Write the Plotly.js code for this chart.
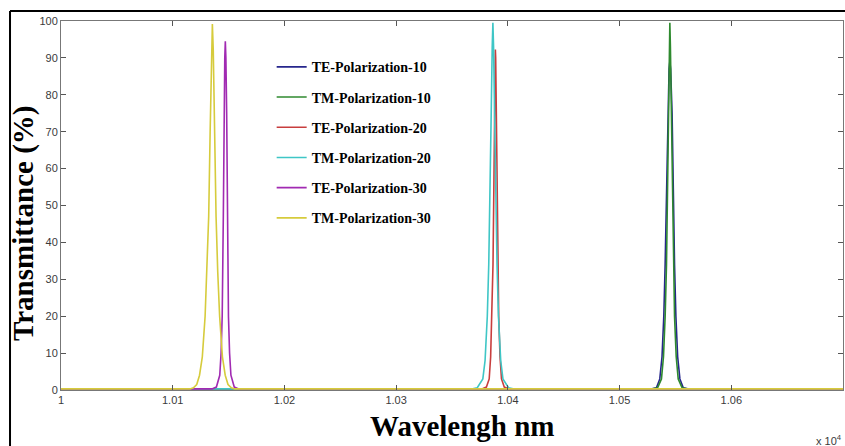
<!DOCTYPE html>
<html>
<head>
<meta charset="utf-8">
<script src="https://cdn.plot.ly/plotly-3.0.1.min.js"></script>
<style>
  html, body { margin: 0; padding: 0; background: #ffffff; }
  #chart { width: 845px; height: 446px; }
</style>
</head>
<body>
<div id="chart"></div>
<script>
// ---- data (wavelength in nm, transmittance in %) ----
const seriesNames = ["TE-Polarization-10", "TM-Polarization-10", "TE-Polarization-20",
                     "TM-Polarization-20", "TE-Polarization-30", "TM-Polarization-30"];

const te10X = [10000, 10529, 10533, 10536, 10538, 10539.6, 10540.8, 10541.8, 10543, 10544.3, 10545,
               10545.7, 10547, 10548.2, 10549.2, 10550.4, 10552, 10554, 10557, 10561, 10700];
const te10Y = [0.3, 0.3, 0.6, 3, 9, 20, 34, 50, 75, 87, 89, 87, 75, 50, 34, 20, 9, 3, 0.6, 0.3, 0.3];

const tm10X = [10000, 10530, 10534, 10537.5, 10539.3, 10540.8, 10542, 10542.8, 10543.7, 10544.5, 10545,
               10545.5, 10546.3, 10547.2, 10548, 10549.2, 10550.7, 10552.5, 10556, 10560, 10700];
const tm10Y = [0.3, 0.3, 0.6, 3, 9, 20, 34, 50, 75, 93, 99.5, 93, 75, 50, 34, 20, 9, 3, 0.6, 0.3, 0.3];

const te20X = [10000, 10376.8, 10380.8, 10383.3, 10384.6, 10385.8, 10386.7, 10387.3, 10387.9, 10388.5, 10388.8,
               10389.1, 10389.7, 10390.3, 10390.9, 10391.8, 10393, 10394.3, 10396.8, 10400.8, 10700];
const te20Y = [0.3, 0.3, 0.8, 3, 9, 20, 34, 50, 75, 90, 92.3, 90, 75, 50, 34, 20, 9, 3, 0.8, 0.3, 0.3];

const tm20X = [10000, 10368.6, 10372.6, 10377.6, 10379.6, 10381.6, 10382.9, 10384, 10385.1, 10386, 10386.6,
               10387.2, 10388.1, 10389.2, 10390.3, 10391.6, 10393.6, 10395.6, 10400.6, 10404.6, 10700];
const tm20Y = [0.3, 0.3, 0.6, 3, 8, 20, 34, 50, 75, 93, 99.5, 93, 75, 50, 34, 20, 8, 3, 0.6, 0.3, 0.3];

const te30X = [10000, 10135.1, 10139.1, 10142.1, 10143.3, 10144.3, 10145.3, 10145.9, 10146.6, 10147.1,
               10147.6, 10148.3, 10148.9, 10149.9, 10150.9, 10152.1, 10155.1, 10159.1, 10700];
const te30Y = [0.3, 0.3, 0.8, 4, 10, 20, 47, 75, 90, 94.5, 90, 75, 47, 20, 10, 4, 0.8, 0.3, 0.3];

const tm30X = [10000, 10115.5, 10118.5, 10121.5, 10124, 10126.5, 10129, 10130.7, 10132.2, 10133.5, 10134.7, 10135.5,
               10136.3, 10137.5, 10138.8, 10140.3, 10142, 10144.5, 10147, 10149.5, 10152.5, 10155.5, 10700];
const tm30Y = [0.3, 0.3, 0.6, 1.5, 4, 9, 20, 32, 47, 70, 92, 99.2, 92, 70, 47, 32, 20, 9, 4, 1.5, 0.6, 0.3, 0.3];

const xTickVals = [10000, 10100, 10200, 10300, 10400, 10500, 10600, 10700];
const xTickText = ["1", "1.01", "1.02", "1.03", "1.04", "1.05", "1.06", "1.07"];
const yTickVals = [0, 10, 20, 30, 40, 50, 60, 70, 80, 90, 100];

const xTitle = "Wavelengh nm";
const yTitle = "Transmittance (%)";
const xExponent = "x 10<sup>4</sup>";

// ---- styles ----
const colors = ["#26268c", "#2f8a2f", "#c83e3e", "#3fc6c6", "#a12ab2", "#d6cb3c"];
const xs = [te10X, tm10X, te20X, tm20X, te30X, tm30X];
const ys = [te10Y, tm10Y, te20Y, tm20Y, te30Y, tm30Y];

const traces = seriesNames.map((name, i) => ({
  type: "scatter",
  mode: "lines",
  name: name,
  legendgroup: "g" + i,
  x: xs[i],
  y: ys[i],
  line: { color: colors[i], width: 1.6 }
}));

const tickFont = { family: "Liberation Sans, Arial, sans-serif", size: 11, color: "#3a3a3a" };
const serifBold = { family: "Liberation Serif, Times New Roman, serif", weight: "bold", color: "#000" };

const layout = {
  width: 845,
  height: 446,
  margin: { l: 61, r: 2, t: 21, b: 56, pad: 0 },
  paper_bgcolor: "#ffffff",
  plot_bgcolor: "#ffffff",
  showlegend: true,
  legend: {
    x: 0.2694, xanchor: "left",
    y: 0.918, yanchor: "top",
    bgcolor: "rgba(0,0,0,0)",
    borderwidth: 0,
    tracegroupgap: 9,
    font: Object.assign({ size: 14 }, serifBold)
  },
  xaxis: {
    range: [10000, 10700],
    tickmode: "array",
    tickvals: xTickVals,
    ticktext: xTickText,
    ticks: "inside",
    ticklen: 5,
    tickcolor: "#555",
    showline: true,
    linecolor: "#777",
    linewidth: 1,
    mirror: "ticks",
    showgrid: false,
    zeroline: false,
    tickfont: tickFont
  },
  yaxis: {
    range: [0, 100],
    tickmode: "array",
    tickvals: yTickVals,
    ticks: "inside",
    ticklen: 5,
    tickcolor: "#555",
    showline: true,
    linecolor: "#777",
    linewidth: 1,
    mirror: "ticks",
    showgrid: false,
    zeroline: false,
    tickfont: tickFont
  },
  annotations: [
    {
      xref: "paper", yref: "paper",
      x: 0.514, y: -0.097,
      xanchor: "center", yanchor: "middle",
      text: xTitle,
      showarrow: false,
      font: Object.assign({ size: 29 }, serifBold)
    },
    {
      xref: "paper", yref: "paper",
      x: -0.0473, y: 0.45,
      xanchor: "center", yanchor: "middle",
      textangle: -90,
      text: yTitle,
      showarrow: false,
      font: Object.assign({ size: 29 }, serifBold)
    },
    {
      xref: "paper", yref: "paper",
      x: 0.982, y: -0.135,
      xanchor: "center", yanchor: "middle",
      text: xExponent,
      showarrow: false,
      font: tickFont
    }
  ],
  shapes: [
    { type: "line", xref: "paper", yref: "paper", x0: -0.0652, x1: -0.0652, y0: 1.027, y1: -0.16,
      line: { color: "#000", width: 2 } },
    { type: "line", xref: "paper", yref: "paper", x0: -0.0652, x1: 1.01, y0: 1.027, y1: 1.027,
      line: { color: "#000", width: 2 } }
  ]
};

Plotly.newPlot("chart", traces, layout, { displayModeBar: false, staticPlot: true });
</script>
</body>
</html>
